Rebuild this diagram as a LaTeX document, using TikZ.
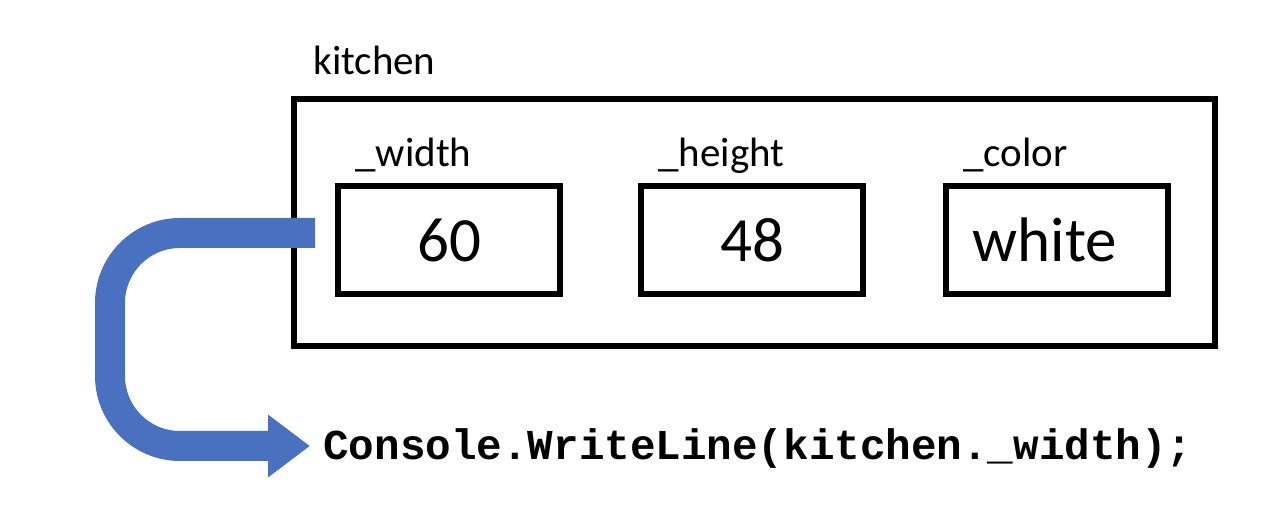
\documentclass[tikz,border=0pt]{standalone}
\usepackage{fontspec}
\setmainfont{Carlito}
\newfontfamily\codefont{Liberation Mono}
\usepackage{tikz}
\usetikzlibrary{arrows.meta,positioning,calc}
\definecolor{flecheblue}{HTML}{4A70C0}
\tikzset{
  champ/.style={rectangle, draw=black, line width=3pt, minimum width=111pt,
                minimum height=54pt, inner sep=0pt, font=\fontsize{31.5}{36}\selectfont},
  objet/.style={rectangle, draw=black, line width=3pt, minimum width=460.5pt,
                minimum height=123.5pt, inner sep=0pt},
  etiq/.style={inner sep=0pt, anchor=base west, font=\fontsize{20.5}{24}\selectfont},
  fleche/.style={-{Triangle[length=21pt, width=30pt]}, line width=15pt, draw=flecheblue,
                 rounded corners=35pt},
}
\begin{document}
\begin{tikzpicture}[x=0.5pt, y=-0.5pt]
  \useasboundingbox (0,0) rectangle (1276,512);
  \node[objet] (kitchen) at (754.5,222.5) {};
  \node[etiq] (nom) at (313,75) {kitchen};
  \node[champ] (w) at (449,240) {60};
  \node[champ] (h) at (752,240) {48};
  \node[champ] (c) at (1057,240) {\hspace*{-12pt}white};
  \node[etiq] (lw) at (355,167) {\_width};
  \node[etiq] (lh) at (658,167) {\_height};
  \node[etiq] (lc) at (963,167) {\_color};
  \node[inner sep=0pt, anchor=base west, font=\codefont\bfseries\fontsize{21.3}{24}\selectfont]
     (code) at (323,460) {Console.WriteLine(kitchen.\_width);};
  \coordinate (depart) at ($(w.west)+(-20,-7)$);
  \coordinate (arrivee) at ($(code.west)+(-13,0)$);
  \draw[fleche] (depart) -- (110,233) -- (110,446) -- (arrivee |- 0,446);
\end{tikzpicture}
\end{document}
